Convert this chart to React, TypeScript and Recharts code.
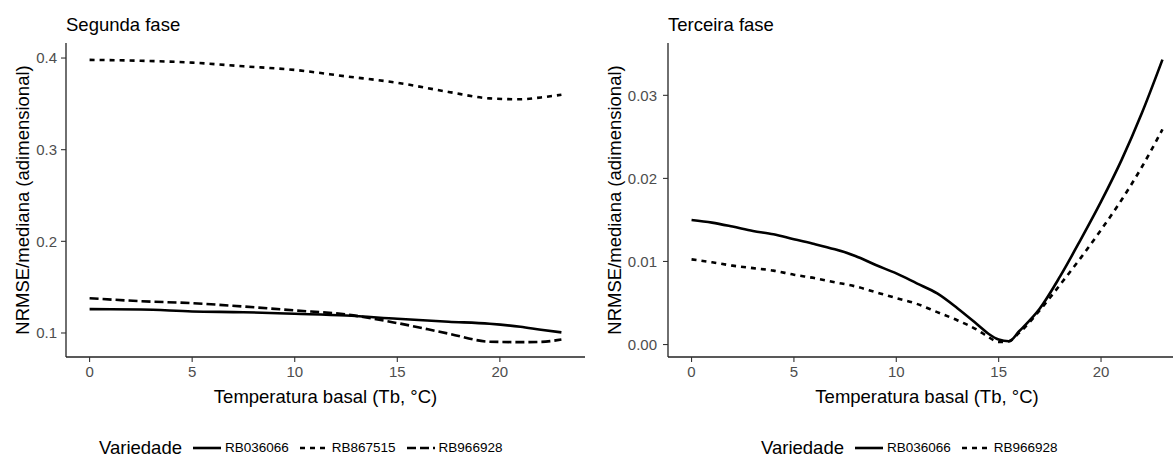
import React from 'react';
import { LineChart, Line, XAxis, YAxis } from 'recharts';

// Segunda fase (left panel)
const segundaTb = [0, 2.5, 5, 7.5, 10, 12.5, 15, 17.5, 19.5, 21, 22, 23];
const segundaRB036066 = [0.126, 0.1256, 0.1235, 0.1227, 0.121, 0.1191, 0.1155, 0.1123, 0.11, 0.1068, 0.1036, 0.1007];
const segundaRB867515 = [0.398, 0.397, 0.395, 0.391, 0.387, 0.38, 0.373, 0.363, 0.356, 0.355, 0.357, 0.36];
const segundaRB966928 = [0.1379, 0.1347, 0.1325, 0.1289, 0.1246, 0.1202, 0.1108, 0.0993, 0.0905, 0.09, 0.0903, 0.0928];
const segundaTicksY = [0.1, 0.2, 0.3, 0.4];

// Terceira fase (right panel)
const terceiraTb = [0, 1, 2, 3, 4, 5, 6, 7, 8, 9, 10, 11, 12, 13, 14, 14.5, 15, 15.5, 16, 17, 18, 19, 20, 21, 22, 23];
const terceiraRB036066 = [
    0.015, 0.01468, 0.0142, 0.01367, 0.01327, 0.01267, 0.0121, 0.01146, 0.01066, 0.00957, 0.00856, 0.00736, 0.00615,
    0.00434, 0.00233, 0.0013, 0.0006, 0.0004, 0.0016, 0.0043, 0.0082, 0.0126, 0.0172, 0.0222, 0.0279, 0.0343,
];
const terceiraRB966928 = [
    0.01025, 0.0099, 0.0095, 0.0092, 0.0089, 0.0084, 0.008, 0.0075, 0.007, 0.0063, 0.0056, 0.0049, 0.0039, 0.0029,
    0.0017, 0.0009, 0.0003, 0.0004, 0.0014, 0.0041, 0.0072, 0.0104, 0.0138, 0.0174, 0.0214, 0.0259,
];
const terceiraTicksY = [0, 0.01, 0.02, 0.03];

const ticksX = [0, 5, 10, 15, 20];

const segundaStyles: Record<string, string | undefined> = {
    RB036066: undefined,
    RB867515: '5 5',
    RB966928: '9 4',
};

// right panel uses dotted for RB966928
const terceiraStyles: Record<string, string | undefined> = {
    RB036066: undefined,
    RB966928: '5 5',
};

const FONT = '"Liberation Sans", Arial, sans-serif';

const segundaData = segundaTb.map((tb, i) => ({
    tb,
    RB036066: segundaRB036066[i],
    RB867515: segundaRB867515[i],
    RB966928: segundaRB966928[i],
}));

const terceiraData = terceiraTb.map((tb, i) => ({
    tb,
    RB036066: terceiraRB036066[i],
    RB966928: terceiraRB966928[i],
}));

function YTitle(props: any) {
    const { viewBox, value, dx } = props;
    const cx = viewBox.x + dx;
    const cy = viewBox.y + viewBox.height / 2;
    return (
        <text
            x={cx}
            y={cy}
            transform={`rotate(-90 ${cx} ${cy})`}
            textAnchor="middle"
            dominantBaseline="central"
            fill="#000"
            fontSize={18.5}
            fontFamily={FONT}
        >
            {value}
        </text>
    );
}

function XTitle(props: any) {
    const { viewBox, value } = props;
    return (
        <text
            x={viewBox.x + viewBox.width / 2}
            y={viewBox.y + 39}
            textAnchor="middle"
            dominantBaseline="central"
            fill="#000"
            fontSize={18.5}
            fontFamily={FONT}
        >
            {value}
        </text>
    );
}

function LegendBox({ series, styles, left }: { series: string[]; styles: Record<string, string | undefined>; left: number }) {
    return (
        <div
            style={{
                position: 'absolute',
                left,
                top: 440,
                height: 16,
                display: 'flex',
                alignItems: 'center',
                fontFamily: FONT,
                whiteSpace: 'nowrap',
                lineHeight: '16px',
            }}
        >
            <span style={{ fontSize: 18.5, marginRight: 11, lineHeight: '16px' }}>Variedade</span>
            {series.map((s) => (
                <span key={s} style={{ display: 'flex', alignItems: 'center', marginRight: 11 }}>
                    <svg width={28} height={10} style={{ marginRight: 4 }}>
                        <line x1={0} y1={5} x2={28} y2={5} stroke="#000" strokeWidth={2.6} strokeDasharray={styles[s]} />
                    </svg>
                    <span style={{ fontSize: 13.5, lineHeight: '16px' }}>{s}</span>
                </span>
            ))}
        </div>
    );
}

const axisLine = { stroke: '#222', strokeWidth: 1.3 };
const tickLine = { stroke: '#333', strokeWidth: 1.1 };
const tickStyle = { fill: '#4d4d4d', fontSize: 15, fontFamily: FONT };

export default function App() {
    const segundaSeries = ['RB036066', 'RB867515', 'RB966928'];
    const terceiraSeries = ['RB036066', 'RB966928'];
    return (
        <div
            style={{
                position: 'absolute',
                left: 0,
                top: 0,
                width: 1173,
                height: 457,
                overflow: 'hidden',
                background: '#fff',
                fontFamily: FONT,
            }}
        >
            <div style={{ position: 'absolute', left: 66, top: 14, fontSize: 18.5, lineHeight: '22px' }}>Segunda fase</div>
            <div style={{ position: 'absolute', left: 668, top: 14, fontSize: 18.5, lineHeight: '22px' }}>Terceira fase</div>

            <div style={{ position: 'absolute', left: 0, top: 0 }}>
                <LineChart width={600} height={420} data={segundaData} margin={{ top: 43, right: 15, left: 0, bottom: 0 }}>
                    <XAxis
                        dataKey="tb"
                        type="number"
                        domain={[-1.15, 24.15]}
                        ticks={ticksX}
                        allowDataOverflow
                        height={63}
                        tickSize={5}
                        tickMargin={4}
                        tick={tickStyle}
                        tickLine={tickLine}
                        axisLine={axisLine}
                        label={<XTitle value="Temperatura basal (Tb, °C)" />}
                    />
                    <YAxis
                        type="number"
                        domain={[0.0738, 0.4164]}
                        ticks={segundaTicksY}
                        allowDataOverflow
                        width={66}
                        tickSize={5}
                        tickMargin={4}
                        tick={tickStyle}
                        tickLine={tickLine}
                        axisLine={axisLine}
                        tickFormatter={(v: number) => v.toFixed(1)}
                        label={<YTitle value="NRMSE/mediana (adimensional)" dx={22} />}
                    />
                    {segundaSeries.map((s) => (
                        <Line
                            key={s}
                            type="monotone"
                            dataKey={s}
                            stroke="#000"
                            strokeWidth={2.6}
                            strokeDasharray={segundaStyles[s]}
                            dot={false}
                            activeDot={false}
                            isAnimationActive={false}
                        />
                    ))}
                </LineChart>
            </div>

            <div style={{ position: 'absolute', left: 590, top: 0 }}>
                <LineChart width={596} height={420} data={terceiraData} margin={{ top: 43, right: 0, left: 0, bottom: 0 }}>
                    <XAxis
                        dataKey="tb"
                        type="number"
                        domain={[-1.15, 24.15]}
                        ticks={ticksX}
                        allowDataOverflow
                        height={63}
                        tickSize={5}
                        tickMargin={4}
                        tick={tickStyle}
                        tickLine={tickLine}
                        axisLine={axisLine}
                        label={<XTitle value="Temperatura basal (Tb, °C)" />}
                    />
                    <YAxis
                        type="number"
                        domain={[-0.0015, 0.0363]}
                        ticks={terceiraTicksY}
                        allowDataOverflow
                        width={78}
                        tickSize={5}
                        tickMargin={6}
                        tick={tickStyle}
                        tickLine={tickLine}
                        axisLine={axisLine}
                        tickFormatter={(v: number) => v.toFixed(2)}
                        label={<YTitle value="NRMSE/mediana (adimensional)" dx={24} />}
                    />
                    {terceiraSeries.map((s) => (
                        <Line
                            key={s}
                            type="monotone"
                            dataKey={s}
                            stroke="#000"
                            strokeWidth={2.6}
                            strokeDasharray={terceiraStyles[s]}
                            dot={false}
                            activeDot={false}
                            isAnimationActive={false}
                        />
                    ))}
                </LineChart>
            </div>

            <LegendBox series={segundaSeries} styles={segundaStyles} left={99} />
            <LegendBox series={terceiraSeries} styles={terceiraStyles} left={761} />
        </div>
    );
}
